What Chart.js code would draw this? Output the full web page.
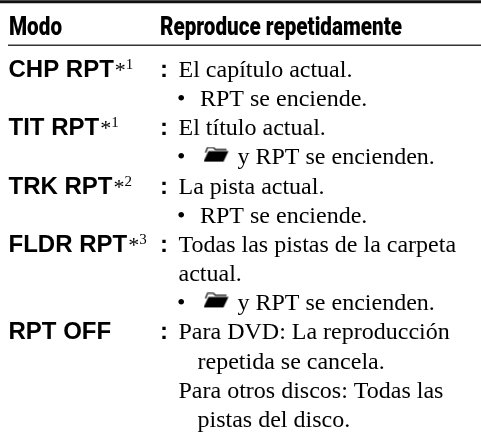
<!DOCTYPE html>
<html><head><meta charset="utf-8">
<style>html,body{margin:0;padding:0;background:#fff}canvas{display:block}</style>
<script src="https://cdn.jsdelivr.net/npm/chart.js@4"></script></head>
<body><canvas id="c" width="481" height="443" style="width:481px;height:443px"></canvas>
<script>
// Table content: column headers, mode labels and the row each entry sits on
const headers = ["Modo", "Reproduce repetidamente"];
const modes = ["CHP RPT", "TIT RPT", "TRK RPT", "FLDR RPT", "RPT OFF"];
const modeRows = [0, 2, 4, 6, 9];
const notes = ["1", "1", "2", "3", ""];
const lines = ["El capítulo actual.", "RPT se enciende.", "El título actual.", "y RPT se encienden.",
  "La pista actual.", "RPT se enciende.", "Todas las pistas de la carpeta", "actual.",
  "y RPT se encienden.", "Para DVD: La reproducción", "repetida se cancela.",
  "Para otros discos: Todas las", "pistas del disco."];
const lineIndent = [0, 1, 0, 2, 0, 1, 0, 0, 2, 0, 3, 0, 3];
const bulletRows = [1, 3, 5, 8];
const folderRows = [3, 8];

const SERIF = '"Liberation Serif"', SANS = '"Liberation Sans"', HEAD = 'Roboto';
const indentX = [178.5, 200, 237.5, 197.5];
const HEADER_ROW = -1.44, RULE_ROW = -1.09, TOP_ROW = -2.58;

const folderIcon = document.createElement('canvas');
folderIcon.width = 26; folderIcon.height = 16;
{ const g = folderIcon.getContext('2d');
  g.fillStyle = '#000'; g.strokeStyle = '#000'; g.lineWidth = 1.2;
  g.beginPath(); g.moveTo(2,6); g.lineTo(4,1); g.lineTo(10,1); g.lineTo(12,2.8); g.lineTo(23,2.8); g.stroke();
  g.beginPath(); g.moveTo(5,4.5); g.lineTo(25,4.5); g.lineTo(20,15); g.lineTo(0,15); g.closePath(); g.fill();
}

const textPlugin = {
  id: 'tableText',
  afterDatasetsDraw(chart) {
    const { ctx, scales: { x, y } } = chart;
    const put = (s, cx, row, font, dy = 0, maxW) => {
      ctx.font = font;
      const px = x.getPixelForValue(cx), py = y.getPixelForValue(row) + dy;
      if (maxW) ctx.fillText(s, px, py, maxW); else ctx.fillText(s, px, py);
    };
    ctx.save();
    ctx.fillStyle = '#000'; ctx.textBaseline = 'alphabetic'; ctx.textAlign = 'left';
    put(headers[0], 9, HEADER_ROW, `900 25px ${HEAD}`, 0, 53);
    put(headers[1], 160, HEADER_ROW, `900 25px ${HEAD}`, 0, 242);
    modes.forEach((m, i) => {
      const row = modeRows[i];
      put(m, 8.5, row, `bold 24px ${SANS}`);
      const w = ctx.measureText(m).width;
      if (notes[i]) {
        put('*', 8.5 + w + 1, row, `22px ${SERIF}`);
        put(notes[i], 8.5 + w + 12, row, `15px ${SERIF}`, -8);
      }
      put(':', 160, row, `bold 24px ${SANS}`);
    });
    lines.forEach((s, i) => put(s, indentX[lineIndent[i]], i, `24px ${SERIF}`));
    bulletRows.forEach(r => put('•', 177, r, `24px ${SERIF}`));
    ctx.restore();
  }
};

new Chart(document.getElementById('c'), {
  type: 'scatter',
  data: { datasets: [
    { data: [{x:0,y:TOP_ROW},{x:481,y:TOP_ROW}], showLine:true, borderColor:'#111', borderWidth:3, pointRadius:0 },
    { data: [{x:8,y:RULE_ROW},{x:481,y:RULE_ROW}], showLine:true, borderColor:'#333', borderWidth:1.5, pointRadius:0 },
    { data: folderRows.map(r => ({x:216.5, y:r-0.34})), pointStyle: folderIcon, showLine:false }
  ]},
  options: {
    responsive:false, animation:false, events:[],
    layout:{padding:0, autoPadding:false},
    plugins:{legend:{display:false},tooltip:{enabled:false},title:{display:false}},
    scales:{
      x:{type:'linear',display:false,min:0,max:481},
      y:{type:'linear',display:false,reverse:true,min:-2.64,max:12.55}
    }
  },
  plugins:[textPlugin]
});
</script></body></html>
